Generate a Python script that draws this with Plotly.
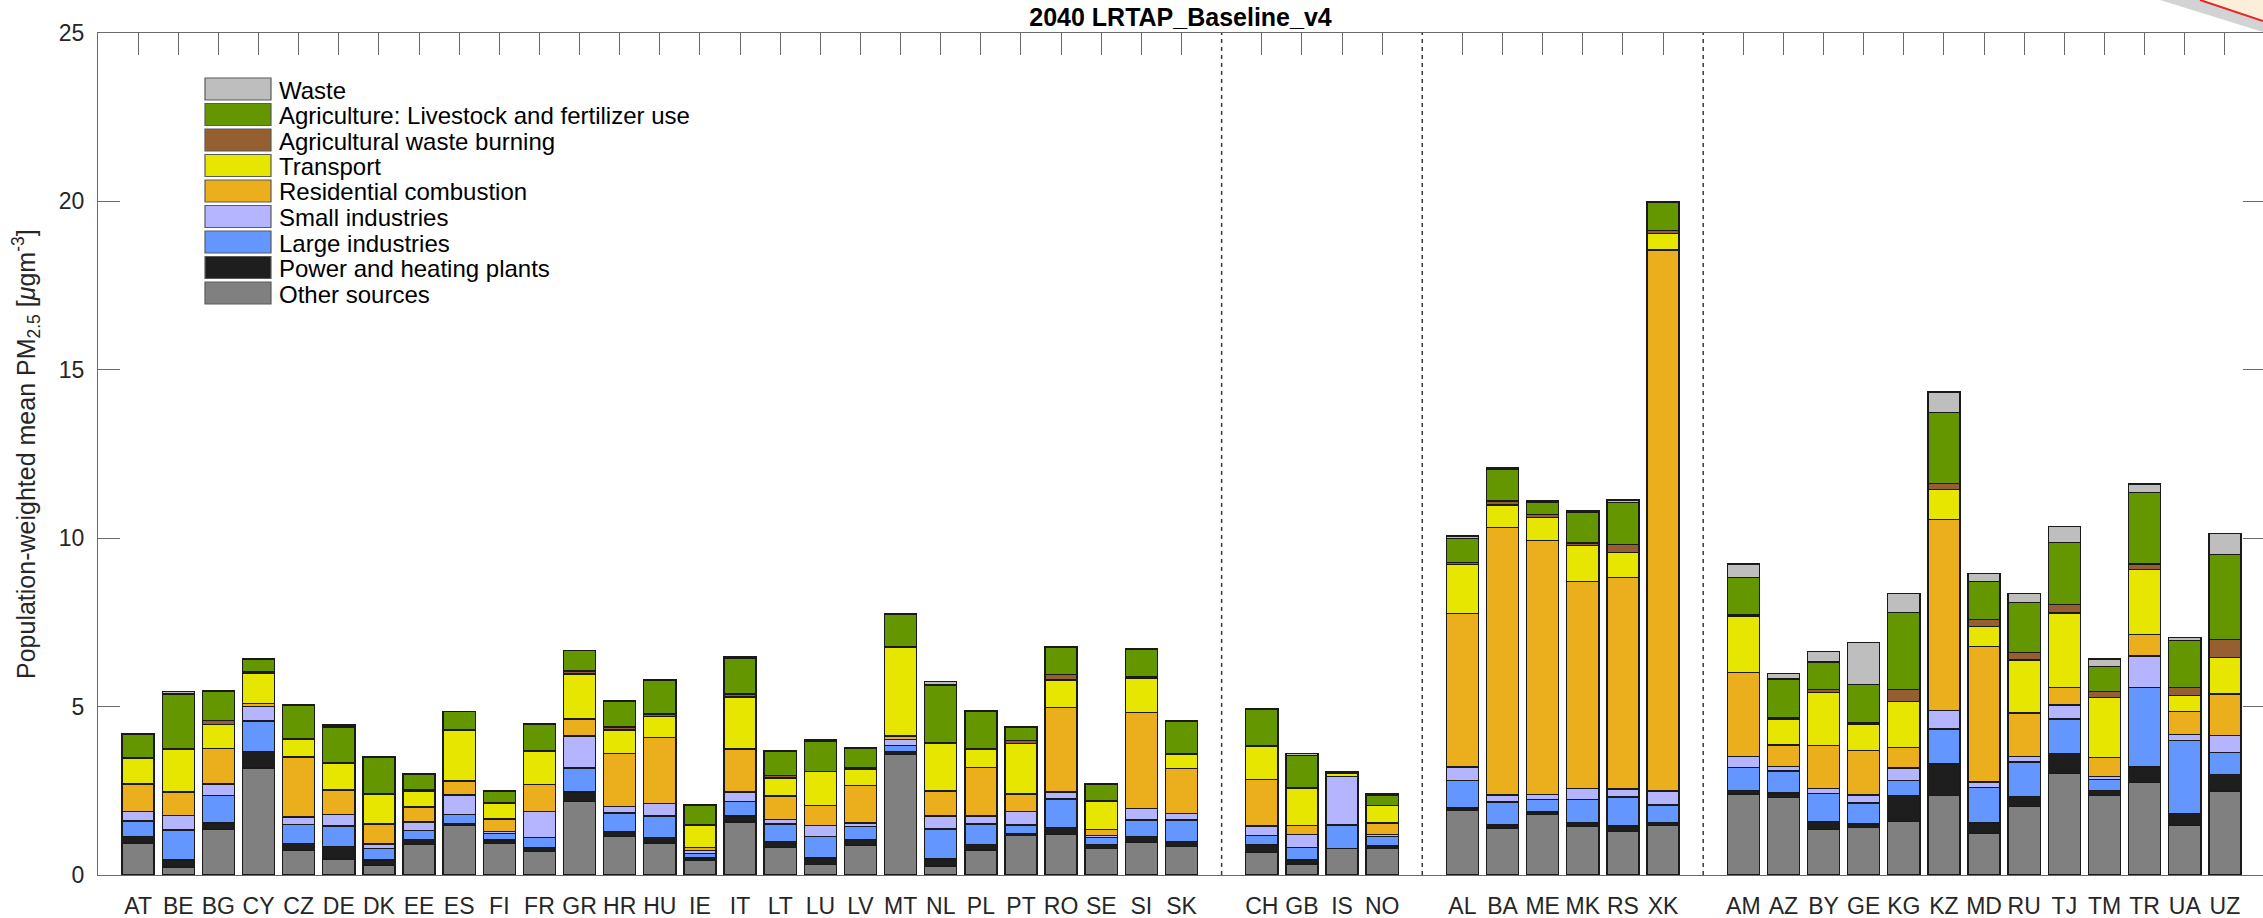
import plotly.graph_objects as go

# ---- country groups (drawn left to right, separated by dashed lines) ----
countries_eu = ["AT", "BE", "BG", "CY", "CZ", "DE", "DK", "EE", "ES", "FI", "FR", "GR", "HR", "HU",
                "IE", "IT", "LT", "LU", "LV", "MT", "NL", "PL", "PT", "RO", "SE", "SI", "SK"]
countries_efta = ["CH", "GB", "IS", "NO"]
countries_wb = ["AL", "BA", "ME", "MK", "RS", "XK"]
countries_eecca = ["AM", "AZ", "BY", "GE", "KG", "KZ", "MD", "RU", "TJ", "TM", "TR", "UA", "UZ"]
groups = [countries_eu, countries_efta, countries_wb, countries_eecca]

# ---- source contributions, µg/m3 (same order as the groups above) ----
other = [0.95, 0.24, 1.37, 3.18, 0.73, 0.48, 0.30, 0.92, 1.47, 0.95, 0.69, 2.19, 1.15, 0.95,
         0.45, 1.57, 0.82, 0.32, 0.89, 3.58, 0.27, 0.74, 1.19, 1.20, 0.79, 0.97, 0.84,
         0.67, 0.33, 0.78, 0.80,
         1.92, 1.39, 1.80, 1.45, 1.30, 1.47,
         2.41, 2.31, 1.35, 1.41, 1.59, 2.36, 1.25, 2.04, 3.01, 2.36, 2.74, 1.49, 2.50]
power = [0.20, 0.20, 0.18, 0.49, 0.21, 0.37, 0.15, 0.13, 0.04, 0.09, 0.12, 0.28, 0.15, 0.17,
         0.05, 0.18, 0.18, 0.19, 0.16, 0.08, 0.21, 0.17, 0.03, 0.21, 0.10, 0.17, 0.15,
         0.22, 0.12, 0.01, 0.06,
         0.07, 0.10, 0.07, 0.10, 0.15, 0.08,
         0.10, 0.13, 0.22, 0.10, 0.77, 0.94, 0.30, 0.29, 0.60, 0.15, 0.47, 0.33, 0.48]
large_ind = [0.45, 0.90, 0.81, 0.90, 0.56, 0.61, 0.33, 0.28, 0.29, 0.20, 0.31, 0.71, 0.54, 0.63,
             0.14, 0.43, 0.51, 0.64, 0.39, 0.18, 0.89, 0.61, 0.27, 0.85, 0.22, 0.49, 0.64,
             0.28, 0.36, 0.69, 0.28,
             0.82, 0.68, 0.37, 0.70, 0.87, 0.53,
             0.69, 0.65, 0.85, 0.63, 0.44, 1.04, 1.04, 1.02, 1.02, 0.32, 2.35, 2.17, 0.65]
small_ind = [0.29, 0.43, 0.34, 0.43, 0.22, 0.33, 0.14, 0.24, 0.57, 0.06, 0.77, 0.95, 0.20, 0.37,
             0.09, 0.29, 0.13, 0.32, 0.11, 0.18, 0.38, 0.23, 0.40, 0.20, 0.07, 0.34, 0.20,
             0.29, 0.40, 1.44, 0.06,
             0.40, 0.20, 0.15, 0.32, 0.23, 0.42,
             0.32, 0.14, 0.15, 0.24, 0.38, 0.55, 0.17, 0.17, 0.42, 0.10, 0.94, 0.18, 0.52]
residential = [0.81, 0.69, 1.05, 0.10, 1.78, 0.73, 0.60, 0.45, 0.42, 0.36, 0.80, 0.50, 1.57, 1.97,
               0.09, 1.27, 0.70, 0.60, 1.11, 0.11, 0.75, 1.44, 0.52, 2.51, 0.18, 2.85, 1.34,
               1.37, 0.26, 0.01, 0.35,
               4.56, 7.95, 7.55, 6.14, 6.29, 16.06,
               2.49, 0.63, 1.28, 1.32, 0.60, 5.67, 4.02, 1.29, 0.52, 0.55, 0.64, 0.69, 1.22]
transport = [0.77, 1.28, 0.72, 0.88, 0.54, 0.81, 0.88, 0.48, 1.52, 0.48, 0.98, 1.34, 0.69, 0.61,
             0.67, 1.54, 0.54, 1.00, 0.48, 2.62, 1.42, 0.55, 1.50, 0.82, 0.83, 1.02, 0.42,
             0.99, 1.10, 0.08, 0.51,
             1.45, 0.67, 0.68, 1.07, 0.73, 0.48,
             1.68, 0.77, 1.56, 0.76, 1.37, 0.89, 0.60, 1.57, 2.21, 1.79, 1.93, 0.47, 1.08]
agri_burning = [0.02, 0.01, 0.11, 0.05, 0.01, 0.01, 0.01, 0.04, 0.01, 0.01, 0.01, 0.09, 0.09, 0.08,
                0.01, 0.09, 0.07, 0.01, 0.04, 0.04, 0.01, 0.01, 0.08, 0.16, 0.01, 0.04, 0.02,
                0.01, 0.01, 0.00, 0.01,
                0.05, 0.12, 0.08, 0.08, 0.25, 0.10,
                0.05, 0.05, 0.09, 0.05, 0.35, 0.17, 0.20, 0.23, 0.25, 0.18, 0.16, 0.24, 0.54]
agriculture = [0.69, 1.63, 0.88, 0.37, 1.00, 1.05, 1.07, 0.45, 0.53, 0.35, 0.80, 0.60, 0.78, 1.00,
               0.58, 1.07, 0.72, 0.90, 0.59, 0.94, 1.71, 1.10, 0.39, 0.82, 0.50, 0.82, 0.95,
               1.09, 0.97, 0.04, 0.30,
               0.73, 0.93, 0.37, 0.90, 1.24, 0.82,
               1.10, 1.14, 0.83, 1.14, 2.30, 2.11, 1.14, 1.48, 1.84, 0.74, 2.13, 1.39, 2.52]
waste = [0.02, 0.07, 0.01, 0.01, 0.01, 0.06, 0.02, 0.01, 0.01, 0.01, 0.01, 0.01, 0.01, 0.01,
         0.01, 0.03, 0.01, 0.03, 0.01, 0.04, 0.10, 0.02, 0.01, 0.02, 0.02, 0.02, 0.03,
         0.03, 0.05, 0.03, 0.03,
         0.07, 0.05, 0.03, 0.05, 0.08, 0.03,
         0.39, 0.17, 0.30, 1.25, 0.56, 0.61, 0.23, 0.26, 0.47, 0.22, 0.25, 0.09, 0.63]

# stacking order: bottom to top
sources = [
    ("Other sources", other, "#808080"),
    ("Power and heating plants", power, "#1e1e1e"),
    ("Large industries", large_ind, "#6496ff"),
    ("Small industries", small_ind, "#b4b4ff"),
    ("Residential combustion", residential, "#ebaf1e"),
    ("Transport", transport, "#e6e600"),
    ("Agricultural waste burning", agri_burning, "#965f32"),
    ("Agriculture: Livestock and fertilizer use", agriculture, "#649600"),
    ("Waste", waste, "#bebebe"),
]

# x positions: one empty slot between groups, holding a dashed separator
labels, xpos, separators = [], [], []
slot = 0
for gi, grp in enumerate(groups):
    for c in grp:
        labels.append(c)
        xpos.append(slot)
        slot += 1
    if gi < len(groups) - 1:
        separators.append(slot)
        slot += 1

W, H = 2263, 918
L, R, T, B = 98, 2263, 33, 875          # plot-area pixel box
XMIN, XMAX = -1, 52.95
FONT = "Liberation Sans, Arial, sans-serif"
INK = "#262626"


def px(xp):
    return (xp - L) / (R - L)


def py(yp):
    return (B - yp) / (B - T)


fig = go.Figure()
for name, vals, col in sources:
    fig.add_trace(go.Bar(
        x=xpos, y=vals, name=name, width=0.8,
        marker=dict(color=col, line=dict(color="#1a1a1a", width=1.4)),
        showlegend=False,
    ))

# carrier trace for the mirrored top / right axes
fig.add_trace(go.Scatter(x=[None], y=[None], xaxis="x2", yaxis="y2",
                         showlegend=False, hoverinfo="skip"))

shapes = []
for s in separators:
    shapes.append(dict(type="line", xref="x", yref="paper", x0=s, x1=s, y0=0, y1=1,
                       line=dict(color="#3a3a3a", width=1.5, dash="4px,4px"), layer="above"))

# legend (top entry = top of the stack)
annotations = []
leg_items = list(reversed(sources))
for i, (name, _, col) in enumerate(leg_items):
    yc = 89 + i * 25.5
    shapes.append(dict(type="rect", xref="paper", yref="paper",
                       x0=px(205), x1=px(271), y0=py(yc + 11), y1=py(yc - 11),
                       fillcolor=col, line=dict(color="#5a5a5a", width=1.2)))
    annotations.append(dict(xref="paper", yref="paper", x=px(277), y=py(yc + 1),
                            xanchor="left", yanchor="middle", showarrow=False,
                            text=name, font=dict(family=FONT, size=24, color="#000000")))

# y-axis title
annotations.append(dict(xref="paper", yref="paper", x=px(26), y=0.5, textangle=-90,
                        xanchor="center", yanchor="middle", showarrow=False,
                        text="Population-weighted mean PM<sub>2.5</sub> [<i>μ</i>gm<sup>-3</sup>]",
                        font=dict(family=FONT, size=25, color=INK)))

# corner of a note overlay in the top-right
shapes.append(dict(type="path", xref="paper", yref="paper",
                   path=f"M{px(2160)},{py(0)} L{px(2200)},{py(0)} L{px(2263)},{py(21)} "
                        f"L{px(2263)},{py(32)} Z",
                   fillcolor="rgba(80,80,80,0.25)", line=dict(width=0)))
shapes.append(dict(type="path", xref="paper", yref="paper",
                   path=f"M{px(2200)},{py(0)} L{px(2263)},{py(0)} L{px(2263)},{py(21)} Z",
                   fillcolor="#fcefd9", line=dict(width=0)))
shapes.append(dict(type="line", xref="paper", yref="paper",
                   x0=px(2200), y0=py(0), x1=px(2263), y1=py(21),
                   line=dict(color="#e8262a", width=2)))

axis_line = dict(showline=True, linecolor="#6a6a6a", linewidth=1.2)

fig.update_layout(
    width=W, height=H,
    margin=dict(l=L, r=W - R, t=T, b=H - B),
    barmode="stack",
    plot_bgcolor="white", paper_bgcolor="white",
    font=dict(family=FONT, color=INK),
    title=dict(text="<b>2040 LRTAP_Baseline_v4</b>", x=0.5, xref="paper", xanchor="center",
               y=1 - 17 / H, yref="container", yanchor="middle",
               font=dict(family=FONT, size=25, color="#000000")),
    xaxis=dict(range=[XMIN, XMAX], tickmode="array", tickvals=xpos, ticktext=labels,
               ticks="", tickfont=dict(size=23, color=INK), ticklabelstandoff=10,
               showgrid=False, zeroline=False, **axis_line),
    xaxis2=dict(range=[XMIN, XMAX], overlaying="x", side="top", anchor="y",
                tickmode="array", tickvals=xpos, ticks="inside", ticklen=22,
                tickcolor="#6a6a6a", tickwidth=1.2, showticklabels=False,
                showgrid=False, zeroline=False, **axis_line),
    yaxis=dict(range=[0, 25], tickvals=[0, 5, 10, 15, 20, 25], ticks="inside", ticklen=22,
               tickcolor="#6a6a6a", tickwidth=1.2, tickfont=dict(size=23, color=INK),
               ticklabelstandoff=8, showgrid=False, zeroline=False, **axis_line),
    yaxis2=dict(range=[0, 25], overlaying="y", side="right", anchor="x",
                tickvals=[0, 5, 10, 15, 20, 25], ticks="inside", ticklen=20,
                tickcolor="#6a6a6a", tickwidth=1.2, showticklabels=False,
                showline=False, showgrid=False, zeroline=False),
    shapes=shapes,
    annotations=annotations,
)

fig.write_html("out.html")
